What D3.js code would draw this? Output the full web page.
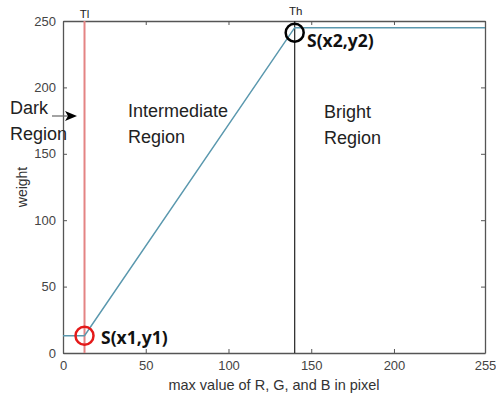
<!DOCTYPE html>
<html>
<head>
<meta charset="utf-8">
<script src="https://cdn.jsdelivr.net/npm/d3@7"></script>
<style>
  html, body { margin: 0; padding: 0; background: #fff; }
  svg { display: block; }
</style>
</head>
<body>
<svg id="chart" width="496" height="396"></svg>
<script>
// Weight curve as a function of the max of R, G, B
const curveX = [0, 13, 140, 255];
const curveY = [13, 13, 245, 245];

// Thresholds
const thresholdNames = ["Tl", "Th"];
const thresholdValues = [13, 140];

// Tick labels
const xTicks = [0, 50, 100, 150, 200, 255];
const yTicks = [0, 50, 100, 150, 200, 250];

// Region captions
const regionLines = [["Dark", "Region"], ["Intermediate", "Region"], ["Bright", "Region"]];

// Marked break points
const pointLabels = ["S(x1,y1)", "S(x2,y2)"];
const pointX = [13, 140];
const pointY = [13, 245];

const svg = d3.select("#chart");
const margin = { left: 63, right: 11, top: 21, bottom: 43 };
const W = 496, H = 396;
const x = d3.scaleLinear().domain([0, 255]).range([margin.left, W - margin.right]);
const y = d3.scaleLinear().domain([0, 250]).range([H - margin.bottom, margin.top]);

const axisColor = "#555";
const font = "'Liberation Sans', Arial, sans-serif";

// Axes with inward ticks (box on all four sides)
const axisBottomG = svg.append("g").attr("transform", `translate(0,${y(0)})`)
  .call(d3.axisBottom(x).tickValues(xTicks).tickSizeInner(-4).tickSizeOuter(0).tickPadding(8));
const axisLeftG = svg.append("g").attr("transform", `translate(${x(0)},0)`)
  .call(d3.axisLeft(y).tickValues(yTicks).tickSizeInner(-4).tickSizeOuter(0).tickPadding(7));
const axisTopG = svg.append("g").attr("transform", `translate(0,${y(250)})`)
  .call(d3.axisTop(x).tickValues(xTicks).tickSizeInner(-4).tickSizeOuter(0).tickFormat(""));
const axisRightG = svg.append("g").attr("transform", `translate(${x(255)},0)`)
  .call(d3.axisRight(y).tickValues(yTicks).tickSizeInner(-4).tickSizeOuter(0).tickFormat(""));

[axisBottomG, axisLeftG, axisTopG, axisRightG].forEach(g => {
  g.select(".domain").attr("stroke", axisColor).attr("stroke-width", 1.3);
  g.selectAll(".tick line").attr("stroke", axisColor);
  g.selectAll(".tick text").attr("fill", "#444").attr("font-size", 13).attr("font-family", font);
});

// Axis titles
svg.append("text")
  .attr("x", (x(0) + x(255)) / 2).attr("y", 390)
  .attr("text-anchor", "middle").attr("font-size", 14.5).attr("font-family", font).attr("fill", "#333")
  .text("max value of R, G, and B in pixel");
svg.append("text")
  .attr("transform", `translate(27,${(y(0) + y(250)) / 2}) rotate(-90)`)
  .attr("text-anchor", "middle").attr("font-size", 14).attr("font-family", font).attr("fill", "#333")
  .text("weight");

// Threshold lines
const thresholdColors = ["#e48484", "#222"];
const thresholdWidths = [2, 1.2];
thresholdValues.forEach((v, i) => {
  svg.append("line")
    .attr("x1", x(v)).attr("x2", x(v)).attr("y1", y(0)).attr("y2", y(250))
    .attr("stroke", thresholdColors[i]).attr("stroke-width", thresholdWidths[i]);
});
svg.append("text").attr("x", x(thresholdValues[0])).attr("y", 18)
  .attr("text-anchor", "middle").attr("font-size", 11.5).attr("font-family", font).attr("fill", "#222")
  .text(thresholdNames[0]);
svg.append("text").attr("x", x(thresholdValues[1]) + 1).attr("y", 15)
  .attr("text-anchor", "middle").attr("font-size", 11.5).attr("font-family", font).attr("fill", "#222")
  .text(thresholdNames[1]);

// Weight curve
const pts = curveX.map((v, i) => [v, curveY[i]]);
svg.append("path")
  .attr("d", d3.line().x(d => x(d[0])).y(d => y(d[1]))(pts))
  .attr("fill", "none").attr("stroke", "#5a98ae").attr("stroke-width", 1.5);

// Region captions
const regionPos = [[10, 114], [128, 117], [324, 118]];
regionLines.forEach((lines, i) => {
  lines.forEach((t, j) => {
    svg.append("text")
      .attr("x", regionPos[i][0]).attr("y", regionPos[i][1] + j * 26)
      .attr("font-size", 18).attr("font-family", font).attr("fill", "#222")
      .text(t);
  });
});

// Arrow pointing from the dark-region caption into the plot
svg.append("line").attr("x1", 52).attr("x2", 68).attr("y1", 116).attr("y2", 116)
  .attr("stroke", "#666").attr("stroke-width", 1.2);
svg.append("path").attr("d", "M65,111 L77,116 L65,121 L68,116 Z").attr("fill", "#000");

// Break point markers
const circleColors = ["#e41a1a", "#000"];
const circleOffsets = [[0, 0], [0, 5]];
const labelPos = [[101, 344], [307, 47]];
pointX.forEach((v, i) => {
  svg.append("circle")
    .attr("cx", x(v) + circleOffsets[i][0]).attr("cy", y(pointY[i]) + circleOffsets[i][1]).attr("r", 9)
    .attr("fill", "none").attr("stroke", circleColors[i]).attr("stroke-width", 2.5);
  svg.append("text")
    .attr("x", labelPos[i][0]).attr("y", labelPos[i][1])
    .attr("font-size", 17.5).attr("font-weight", "bold").attr("font-family", "'Noto Sans', 'Open Sans', sans-serif")
    .attr("fill", "#111")
    .text(pointLabels[i]);
});
</script>
</body>
</html>
